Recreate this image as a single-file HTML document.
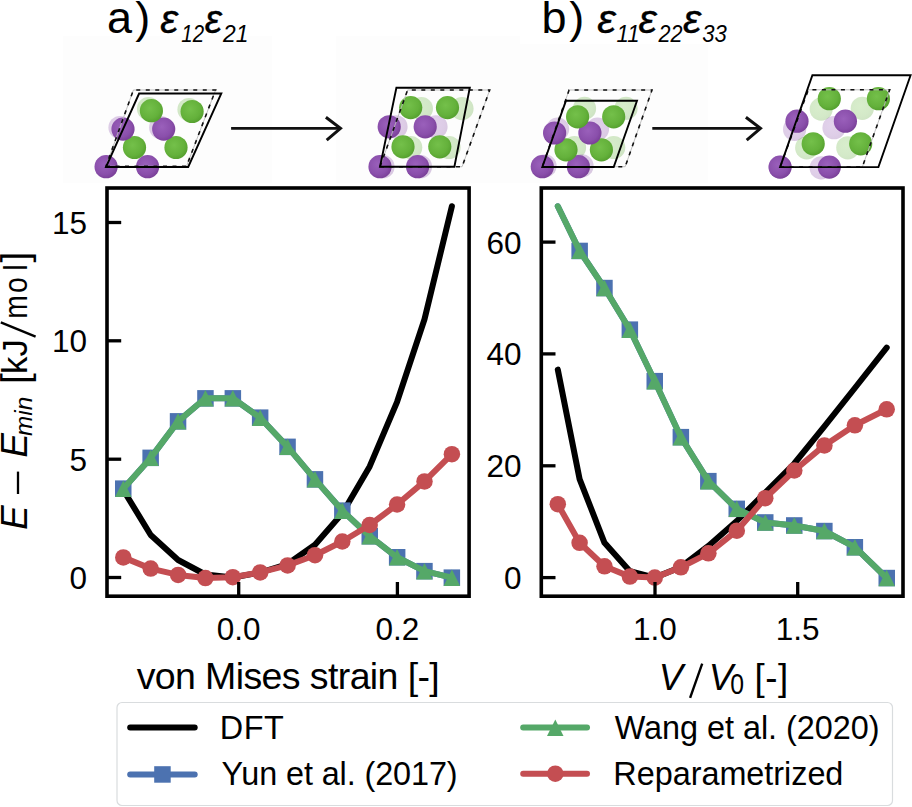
<!DOCTYPE html>
<html><head><meta charset="utf-8"><style>
html,body{margin:0;padding:0;background:#fff;}
svg{display:block;}
text{font-family:"Liberation Sans", sans-serif;}
</style></head><body>
<svg width="912" height="807" viewBox="0 0 912 807">
<defs>
<radialGradient id="gP" cx="0.42" cy="0.4" r="0.62"><stop offset="0" stop-color="#9a60bb"/><stop offset="0.7" stop-color="#8a4fab"/><stop offset="1" stop-color="#7a4098"/></radialGradient>
<radialGradient id="gG" cx="0.42" cy="0.4" r="0.62"><stop offset="0" stop-color="#74c04a"/><stop offset="0.7" stop-color="#64b13b"/><stop offset="1" stop-color="#55a02f"/></radialGradient>
</defs>
<rect x="63" y="36" width="209" height="147" fill="#fdfdfd"/>
<rect x="336" y="36" width="184" height="147" fill="#fdfdfd"/>
<rect x="520" y="44" width="188" height="139" fill="#fdfdfd"/>
<text x="106.89" y="33.3" font-family='"Liberation Sans", sans-serif' font-size="45">a</text>
<text x="135.24" y="33.3" font-family='"Liberation Sans", sans-serif' font-size="45">)</text>
<text x="541.40" y="33.3" font-family='"Liberation Sans", sans-serif' font-size="45">b</text>
<text x="569.24" y="33.3" font-family='"Liberation Sans", sans-serif' font-size="45">)</text>
<text x="160.32" y="33.0" font-family='"Liberation Sans", sans-serif' font-size="40.5" font-style="italic" textLength="17.90" lengthAdjust="spacingAndGlyphs" stroke="#000" stroke-width="0.35">ε</text>
<text x="181.27" y="41.7" font-family='"Liberation Sans", sans-serif' font-size="24.5" font-style="italic" textLength="22.73" lengthAdjust="spacingAndGlyphs">12</text>
<text x="204.75" y="33.0" font-family='"Liberation Sans", sans-serif' font-size="40.5" font-style="italic" textLength="17.19" lengthAdjust="spacingAndGlyphs" stroke="#000" stroke-width="0.35">ε</text>
<text x="223.03" y="41.7" font-family='"Liberation Sans", sans-serif' font-size="24.5" font-style="italic" textLength="25.39" lengthAdjust="spacingAndGlyphs">21</text>
<text x="597.20" y="33.0" font-family='"Liberation Sans", sans-serif' font-size="40.5" font-style="italic" textLength="18.61" lengthAdjust="spacingAndGlyphs" stroke="#000" stroke-width="0.35">ε</text>
<text x="616.57" y="41.7" font-family='"Liberation Sans", sans-serif' font-size="24.5" font-style="italic" textLength="22.87" lengthAdjust="spacingAndGlyphs">11</text>
<text x="638.61" y="33.0" font-family='"Liberation Sans", sans-serif' font-size="40.5" font-style="italic" textLength="18.30" lengthAdjust="spacingAndGlyphs" stroke="#000" stroke-width="0.35">ε</text>
<text x="658.43" y="41.7" font-family='"Liberation Sans", sans-serif' font-size="24.5" font-style="italic" textLength="23.99" lengthAdjust="spacingAndGlyphs">22</text>
<text x="683.11" y="33.0" font-family='"Liberation Sans", sans-serif' font-size="40.5" font-style="italic" textLength="18.20" lengthAdjust="spacingAndGlyphs" stroke="#000" stroke-width="0.35">ε</text>
<text x="702.18" y="41.7" font-family='"Liberation Sans", sans-serif' font-size="24.5" font-style="italic" textLength="24.51" lengthAdjust="spacingAndGlyphs">33</text>
<circle cx="148.5" cy="108.7" r="11.6" fill="url(#gG)" opacity="0.28"/><circle cx="189.0" cy="109.5" r="11.6" fill="url(#gG)" opacity="0.28"/><circle cx="120.0" cy="127.5" r="11.6" fill="url(#gP)" opacity="0.28"/><circle cx="160.7" cy="127.5" r="11.6" fill="url(#gP)" opacity="0.28"/><circle cx="106.1" cy="166.7" r="11.6" fill="url(#gP)"/><circle cx="147.6" cy="166.7" r="11.6" fill="url(#gP)"/><circle cx="134.5" cy="147.5" r="11.6" fill="url(#gG)"/><circle cx="176.0" cy="147.5" r="11.6" fill="url(#gG)"/><circle cx="123.0" cy="129.1" r="11.6" fill="url(#gP)"/><circle cx="163.7" cy="129.1" r="11.6" fill="url(#gP)"/><circle cx="151.4" cy="110.7" r="11.6" fill="url(#gG)"/><circle cx="192.1" cy="111.5" r="11.6" fill="url(#gG)"/><polygon points="106,166.3 186.5,166.3 215.6,90 133.4,90" fill="none" stroke="#b8b8b8" stroke-width="0.9"/><polygon points="106,166.3 186.5,166.3 215.6,90 133.4,90" fill="none" stroke="#111" stroke-width="1.6" stroke-dasharray="4,5.5"/><polygon points="106,167 188.2,167 221.3,93.5 139.1,93.5" fill="none" stroke="#000" stroke-width="1.9" stroke-linejoin="miter"/>
<circle cx="421.4" cy="108.6" r="11.6" fill="url(#gG)" opacity="0.28"/><circle cx="462.0" cy="108.6" r="11.6" fill="url(#gG)" opacity="0.28"/><circle cx="396.0" cy="126.8" r="11.6" fill="url(#gP)" opacity="0.28"/><circle cx="436.0" cy="126.8" r="11.6" fill="url(#gP)" opacity="0.28"/><circle cx="410.7" cy="147.5" r="11.6" fill="url(#gG)" opacity="0.28"/><circle cx="449.0" cy="147.5" r="11.6" fill="url(#gG)" opacity="0.28"/><circle cx="383.0" cy="166.7" r="11.6" fill="url(#gP)" opacity="0.28"/><circle cx="420.5" cy="166.7" r="11.6" fill="url(#gP)" opacity="0.28"/><circle cx="380.0" cy="166.7" r="11.6" fill="url(#gP)"/><circle cx="417.6" cy="166.7" r="11.6" fill="url(#gP)"/><circle cx="403.0" cy="146.8" r="11.6" fill="url(#gG)"/><circle cx="439.8" cy="146.8" r="11.6" fill="url(#gG)"/><circle cx="389.2" cy="126.8" r="11.6" fill="url(#gP)"/><circle cx="425.2" cy="126.8" r="11.6" fill="url(#gP)"/><circle cx="410.7" cy="107.6" r="11.6" fill="url(#gG)"/><circle cx="447.5" cy="107.6" r="11.6" fill="url(#gG)"/><polygon points="380,166.7 462.1,166.7 489.7,90 407.6,90" fill="none" stroke="#b8b8b8" stroke-width="0.9"/><polygon points="380,166.7 462.1,166.7 489.7,90 407.6,90" fill="none" stroke="#111" stroke-width="1.6" stroke-dasharray="4,5.5"/><polygon points="380,166.7 454.4,166.7 469.8,87.7 396.4,87.7" fill="none" stroke="#000" stroke-width="1.9" stroke-linejoin="miter"/>
<circle cx="584.5" cy="108.4" r="11.6" fill="url(#gG)" opacity="0.28"/><circle cx="626.0" cy="108.4" r="11.6" fill="url(#gG)" opacity="0.28"/><circle cx="557.6" cy="129.1" r="11.6" fill="url(#gP)" opacity="0.28"/><circle cx="597.5" cy="129.1" r="11.6" fill="url(#gP)" opacity="0.28"/><circle cx="574.5" cy="147.5" r="11.6" fill="url(#gG)" opacity="0.28"/><circle cx="613.7" cy="147.5" r="11.6" fill="url(#gG)" opacity="0.28"/><circle cx="545.0" cy="165.9" r="11.6" fill="url(#gP)" opacity="0.28"/><circle cx="582.0" cy="165.9" r="11.6" fill="url(#gP)" opacity="0.28"/><circle cx="542.3" cy="166.7" r="11.6" fill="url(#gP)"/><circle cx="578.4" cy="166.7" r="11.6" fill="url(#gP)"/><circle cx="566.0" cy="149.8" r="11.6" fill="url(#gG)"/><circle cx="601.4" cy="149.8" r="11.6" fill="url(#gG)"/><circle cx="554.6" cy="133.0" r="11.6" fill="url(#gP)"/><circle cx="589.9" cy="133.0" r="11.6" fill="url(#gP)"/><circle cx="577.6" cy="116.8" r="11.6" fill="url(#gG)"/><circle cx="613.7" cy="116.8" r="11.6" fill="url(#gG)"/><polygon points="542.3,166.7 625.2,166.7 652,90 569.1,90" fill="none" stroke="#b8b8b8" stroke-width="0.9"/><polygon points="542.3,166.7 625.2,166.7 652,90 569.1,90" fill="none" stroke="#111" stroke-width="1.6" stroke-dasharray="4,5.5"/><polygon points="542.3,167 613.7,167 637,100.7 566,100.7" fill="none" stroke="#000" stroke-width="1.9" stroke-linejoin="miter"/>
<circle cx="821.2" cy="109.1" r="11.6" fill="url(#gG)" opacity="0.28"/><circle cx="862.3" cy="108.3" r="11.6" fill="url(#gG)" opacity="0.28"/><circle cx="794.6" cy="129.3" r="11.6" fill="url(#gP)" opacity="0.28"/><circle cx="834.0" cy="127.7" r="11.6" fill="url(#gP)" opacity="0.28"/><circle cx="806.7" cy="147.8" r="11.6" fill="url(#gG)" opacity="0.28"/><circle cx="847.8" cy="147.8" r="11.6" fill="url(#gG)" opacity="0.28"/><circle cx="780.1" cy="167.1" r="11.6" fill="url(#gP)" opacity="0.28"/><circle cx="821.2" cy="167.9" r="11.6" fill="url(#gP)" opacity="0.28"/><circle cx="780.1" cy="167.1" r="11.6" fill="url(#gP)"/><circle cx="829.3" cy="167.1" r="11.6" fill="url(#gP)"/><circle cx="813.2" cy="143.8" r="11.6" fill="url(#gG)"/><circle cx="860.7" cy="143.8" r="11.6" fill="url(#gG)"/><circle cx="797.0" cy="121.2" r="11.6" fill="url(#gP)"/><circle cx="845.4" cy="121.2" r="11.6" fill="url(#gP)"/><circle cx="829.3" cy="98.7" r="11.6" fill="url(#gG)"/><circle cx="878.4" cy="98.7" r="11.6" fill="url(#gG)"/><polygon points="780.1,167.1 862.3,167.1 889.7,89.8 808.3,89.8" fill="none" stroke="#b8b8b8" stroke-width="0.9"/><polygon points="780.1,167.1 862.3,167.1 889.7,89.8 808.3,89.8" fill="none" stroke="#111" stroke-width="1.6" stroke-dasharray="4,5.5"/><polygon points="780.1,167.1 878.4,167.1 910.6,75.3 812.4,75.3" fill="none" stroke="#000" stroke-width="1.9" stroke-linejoin="miter"/>
<line x1="231.1" y1="128.4" x2="339.0" y2="128.4" stroke="#111" stroke-width="2.8"/><polyline points="325.9,117.2 340.5,128.4 326.7,140.20000000000002" fill="none" stroke="#111" stroke-width="3" stroke-linejoin="miter"/>
<line x1="652.3" y1="128.4" x2="759.0" y2="128.4" stroke="#111" stroke-width="2.8"/><polyline points="745.9,117.2 760.5,128.4 746.7,140.20000000000002" fill="none" stroke="#111" stroke-width="3" stroke-linejoin="miter"/>
<rect x="107" y="188" width="362" height="408" fill="#fff"/>
<rect x="541.3" y="188" width="361.7" height="408" fill="#fff"/>
<polyline points="123.3,490.0 150.7,535.0 178.1,560.0 205.4,574.5 232.8,577.5 260.2,572.5 287.6,564.0 315.0,544.7 342.3,513.4 369.7,466.4 397.1,401.8 424.5,319.2 451.9,206.2" fill="none" stroke="#000" stroke-width="6.0" stroke-linejoin="round" stroke-linecap="round"/><polyline points="123.3,488.7 150.7,457.9 178.1,421.4 205.4,398.3 232.8,398.3 260.2,417.7 287.6,446.9 315.0,479.4 342.3,510.6 369.7,536.2 397.1,557.3 424.5,571.1 451.9,577.6" fill="none" stroke="#4c72b0" stroke-width="6.0" stroke-linejoin="round" stroke-linecap="round"/><rect x="115.0" y="480.4" width="16.5" height="16.5" fill="#4c72b0"/><rect x="142.4" y="449.6" width="16.5" height="16.5" fill="#4c72b0"/><rect x="169.8" y="413.1" width="16.5" height="16.5" fill="#4c72b0"/><rect x="197.2" y="390.1" width="16.5" height="16.5" fill="#4c72b0"/><rect x="224.6" y="390.1" width="16.5" height="16.5" fill="#4c72b0"/><rect x="251.9" y="409.4" width="16.5" height="16.5" fill="#4c72b0"/><rect x="279.3" y="438.6" width="16.5" height="16.5" fill="#4c72b0"/><rect x="306.7" y="471.1" width="16.5" height="16.5" fill="#4c72b0"/><rect x="334.1" y="502.4" width="16.5" height="16.5" fill="#4c72b0"/><rect x="361.5" y="528.0" width="16.5" height="16.5" fill="#4c72b0"/><rect x="388.9" y="549.0" width="16.5" height="16.5" fill="#4c72b0"/><rect x="416.2" y="562.9" width="16.5" height="16.5" fill="#4c72b0"/><rect x="443.6" y="569.4" width="16.5" height="16.5" fill="#4c72b0"/><polyline points="123.3,488.7 150.7,457.9 178.1,421.4 205.4,398.3 232.8,398.3 260.2,417.7 287.6,446.9 315.0,479.4 342.3,510.6 369.7,536.2 397.1,557.3 424.5,571.1 451.9,577.6" fill="none" stroke="#55a868" stroke-width="6.0" stroke-linejoin="round" stroke-linecap="round"/><polygon points="123.3,480.4 115.0,496.9 131.6,496.9" fill="#55a868"/><polygon points="150.7,449.6 142.4,466.1 158.9,466.1" fill="#55a868"/><polygon points="178.1,413.1 169.8,429.6 186.3,429.6" fill="#55a868"/><polygon points="205.4,390.1 197.2,406.6 213.7,406.6" fill="#55a868"/><polygon points="232.8,390.1 224.6,406.6 241.1,406.6" fill="#55a868"/><polygon points="260.2,409.4 251.9,425.9 268.4,425.9" fill="#55a868"/><polygon points="287.6,438.6 279.3,455.1 295.8,455.1" fill="#55a868"/><polygon points="315.0,471.1 306.7,487.6 323.2,487.6" fill="#55a868"/><polygon points="342.3,502.4 334.1,518.9 350.6,518.9" fill="#55a868"/><polygon points="369.7,528.0 361.5,544.5 378.0,544.5" fill="#55a868"/><polygon points="397.1,549.0 388.9,565.5 405.4,565.5" fill="#55a868"/><polygon points="424.5,562.9 416.2,579.4 432.7,579.4" fill="#55a868"/><polygon points="451.9,569.4 443.6,585.9 460.1,585.9" fill="#55a868"/><polyline points="123.3,557.4 150.7,568.6 178.1,574.9 205.4,578.1 232.8,577.2 260.2,572.4 287.6,565.4 315.0,555.2 342.3,541.5 369.7,525.0 397.1,504.5 424.5,481.4 451.9,454.2" fill="none" stroke="#c44e52" stroke-width="6.0" stroke-linejoin="round" stroke-linecap="round"/><circle cx="123.3" cy="557.4" r="8.25" fill="#c44e52"/><circle cx="150.7" cy="568.6" r="8.25" fill="#c44e52"/><circle cx="178.1" cy="574.9" r="8.25" fill="#c44e52"/><circle cx="205.4" cy="578.1" r="8.25" fill="#c44e52"/><circle cx="232.8" cy="577.2" r="8.25" fill="#c44e52"/><circle cx="260.2" cy="572.4" r="8.25" fill="#c44e52"/><circle cx="287.6" cy="565.4" r="8.25" fill="#c44e52"/><circle cx="315.0" cy="555.2" r="8.25" fill="#c44e52"/><circle cx="342.3" cy="541.5" r="8.25" fill="#c44e52"/><circle cx="369.7" cy="525.0" r="8.25" fill="#c44e52"/><circle cx="397.1" cy="504.5" r="8.25" fill="#c44e52"/><circle cx="424.5" cy="481.4" r="8.25" fill="#c44e52"/><circle cx="451.9" cy="454.2" r="8.25" fill="#c44e52"/>
<polyline points="557.8,369.6 579.6,479.1 604.5,542.8 629.9,571.2 654.8,577.6 680.9,567.0 708.4,546.0 736.8,521.0 765.3,492.5 794.3,463.5 824.4,426.3 854.9,388.0 886.7,347.7" fill="none" stroke="#000" stroke-width="6.0" stroke-linejoin="round" stroke-linecap="round"/><polyline points="557.8,206.3 579.6,250.9 604.5,288.0 629.9,329.7 654.8,381.2 680.9,437.2 708.4,481.1 736.8,508.9 765.3,522.5 794.3,525.5 824.4,531.0 854.9,547.2 886.7,578.0" fill="none" stroke="#4c72b0" stroke-width="6.0" stroke-linejoin="round" stroke-linecap="round"/><rect x="571.4" y="242.7" width="16.5" height="16.5" fill="#4c72b0"/><rect x="596.2" y="279.8" width="16.5" height="16.5" fill="#4c72b0"/><rect x="621.6" y="321.4" width="16.5" height="16.5" fill="#4c72b0"/><rect x="646.5" y="372.9" width="16.5" height="16.5" fill="#4c72b0"/><rect x="672.6" y="428.9" width="16.5" height="16.5" fill="#4c72b0"/><rect x="700.1" y="472.9" width="16.5" height="16.5" fill="#4c72b0"/><rect x="728.5" y="500.6" width="16.5" height="16.5" fill="#4c72b0"/><rect x="757.0" y="514.2" width="16.5" height="16.5" fill="#4c72b0"/><rect x="786.0" y="517.2" width="16.5" height="16.5" fill="#4c72b0"/><rect x="816.1" y="522.8" width="16.5" height="16.5" fill="#4c72b0"/><rect x="846.6" y="539.0" width="16.5" height="16.5" fill="#4c72b0"/><rect x="878.5" y="569.8" width="16.5" height="16.5" fill="#4c72b0"/><polyline points="557.8,206.3 579.6,250.9 604.5,288.0 629.9,329.7 654.8,381.2 680.9,437.2 708.4,481.1 736.8,508.9 765.3,522.5 794.3,525.5 824.4,531.0 854.9,547.2 886.7,578.0" fill="none" stroke="#55a868" stroke-width="6.0" stroke-linejoin="round" stroke-linecap="round"/><polygon points="579.6,242.7 571.4,259.1 587.9,259.1" fill="#55a868"/><polygon points="604.5,279.8 596.2,296.2 612.8,296.2" fill="#55a868"/><polygon points="629.9,321.4 621.6,337.9 638.1,337.9" fill="#55a868"/><polygon points="654.8,372.9 646.5,389.4 663.0,389.4" fill="#55a868"/><polygon points="680.9,428.9 672.6,445.4 689.1,445.4" fill="#55a868"/><polygon points="708.4,472.9 700.1,489.4 716.6,489.4" fill="#55a868"/><polygon points="736.8,500.6 728.5,517.1 745.0,517.1" fill="#55a868"/><polygon points="765.3,514.2 757.0,530.8 773.5,530.8" fill="#55a868"/><polygon points="794.3,517.2 786.0,533.8 802.5,533.8" fill="#55a868"/><polygon points="824.4,522.8 816.1,539.2 832.6,539.2" fill="#55a868"/><polygon points="854.9,539.0 846.6,555.5 863.1,555.5" fill="#55a868"/><polygon points="886.7,569.8 878.5,586.2 895.0,586.2" fill="#55a868"/><polyline points="557.8,504.2 579.6,542.8 604.5,566.3 629.9,576.6 654.8,577.6 680.9,567.3 708.4,553.3 736.8,530.7 765.3,498.2 794.3,470.5 824.4,445.4 854.9,425.3 886.7,409.3" fill="none" stroke="#c44e52" stroke-width="6.0" stroke-linejoin="round" stroke-linecap="round"/><circle cx="557.8" cy="504.2" r="8.25" fill="#c44e52"/><circle cx="579.6" cy="542.8" r="8.25" fill="#c44e52"/><circle cx="604.5" cy="566.3" r="8.25" fill="#c44e52"/><circle cx="629.9" cy="576.6" r="8.25" fill="#c44e52"/><circle cx="654.8" cy="577.6" r="8.25" fill="#c44e52"/><circle cx="680.9" cy="567.3" r="8.25" fill="#c44e52"/><circle cx="708.4" cy="553.3" r="8.25" fill="#c44e52"/><circle cx="736.8" cy="530.7" r="8.25" fill="#c44e52"/><circle cx="765.3" cy="498.2" r="8.25" fill="#c44e52"/><circle cx="794.3" cy="470.5" r="8.25" fill="#c44e52"/><circle cx="824.4" cy="445.4" r="8.25" fill="#c44e52"/><circle cx="854.9" cy="425.3" r="8.25" fill="#c44e52"/><circle cx="886.7" cy="409.3" r="8.25" fill="#c44e52"/>
<rect x="107" y="188" width="362.1" height="408.20000000000005" fill="none" stroke="#000" stroke-width="3.6"/><line x1="107" y1="577.5" x2="121.2" y2="577.5" stroke="#000" stroke-width="3.3"/><line x1="107" y1="459.2" x2="121.2" y2="459.2" stroke="#000" stroke-width="3.3"/><line x1="107" y1="340.8" x2="121.2" y2="340.8" stroke="#000" stroke-width="3.3"/><line x1="107" y1="222.5" x2="121.2" y2="222.5" stroke="#000" stroke-width="3.3"/><line x1="238.7" y1="596.2" x2="238.7" y2="582.0" stroke="#000" stroke-width="3.3"/><line x1="397.4" y1="596.2" x2="397.4" y2="582.0" stroke="#000" stroke-width="3.3"/>
<rect x="541.3" y="188" width="361.70000000000005" height="408.20000000000005" fill="none" stroke="#000" stroke-width="3.6"/><line x1="541.3" y1="577.6" x2="555.5" y2="577.6" stroke="#000" stroke-width="3.3"/><line x1="541.3" y1="465.8" x2="555.5" y2="465.8" stroke="#000" stroke-width="3.3"/><line x1="541.3" y1="353.9" x2="555.5" y2="353.9" stroke="#000" stroke-width="3.3"/><line x1="541.3" y1="242.1" x2="555.5" y2="242.1" stroke="#000" stroke-width="3.3"/><line x1="655.0" y1="596.2" x2="655.0" y2="582.0" stroke="#000" stroke-width="3.3"/><line x1="797.7" y1="596.2" x2="797.7" y2="582.0" stroke="#000" stroke-width="3.3"/>
<text x="87" y="589.0" font-family='"Liberation Sans", sans-serif' font-size="31.5" text-anchor="end">0</text>
<text x="87" y="470.7" font-family='"Liberation Sans", sans-serif' font-size="31.5" text-anchor="end">5</text>
<text x="87" y="352.3" font-family='"Liberation Sans", sans-serif' font-size="31.5" text-anchor="end">10</text>
<text x="87" y="234.0" font-family='"Liberation Sans", sans-serif' font-size="31.5" text-anchor="end">15</text>
<text x="521.5" y="589.1" font-family='"Liberation Sans", sans-serif' font-size="31.5" text-anchor="end">0</text>
<text x="521.5" y="477.3" font-family='"Liberation Sans", sans-serif' font-size="31.5" text-anchor="end">20</text>
<text x="521.5" y="365.4" font-family='"Liberation Sans", sans-serif' font-size="31.5" text-anchor="end">40</text>
<text x="521.5" y="253.6" font-family='"Liberation Sans", sans-serif' font-size="31.5" text-anchor="end">60</text>
<text x="238.7" y="639.8" font-family='"Liberation Sans", sans-serif' font-size="31.5" text-anchor="middle">0.0</text>
<text x="397.4" y="639.8" font-family='"Liberation Sans", sans-serif' font-size="31.5" text-anchor="middle">0.2</text>
<text x="655.0" y="639.8" font-family='"Liberation Sans", sans-serif' font-size="31.5" text-anchor="middle">1.0</text>
<text x="797.7" y="639.8" font-family='"Liberation Sans", sans-serif' font-size="31.5" text-anchor="middle">1.5</text>
<text x="136.67" y="688.6" font-family='"Liberation Sans", sans-serif' font-size="37.5" textLength="303.10" lengthAdjust="spacing">von Mises strain [-]</text>
<text x="658.75" y="690" font-family='"Liberation Sans", sans-serif' font-size="36.5" font-style="italic">V</text>
<line x1="702.2" y1="663.6" x2="690.1" y2="697.8" stroke="#000" stroke-width="2.4"/>
<text x="708.75" y="690" font-family='"Liberation Sans", sans-serif' font-size="36.5" font-style="italic">V</text>
<text transform="translate(731.2,693.6) scale(0.84,1)" font-family='"Liberation Sans", sans-serif' font-size="29.5" x="-1.15" y="0">0</text>
<text x="754.58" y="689.8" font-family='"Liberation Sans", sans-serif' font-size="36.7" textLength="33.63" lengthAdjust="spacing">[-]</text>
<g transform="rotate(-90)"><text x="-529.82" y="27.3" font-family='"Liberation Sans", sans-serif' font-size="36.5" font-style="italic">E</text><text x="-457.42" y="27.3" font-family='"Liberation Sans", sans-serif' font-size="36.5" font-style="italic">E</text><text x="-435.90" y="31.7" font-family='"Liberation Sans", sans-serif' font-size="24.3" font-style="italic">m</text><text x="-415.65" y="31.7" font-family='"Liberation Sans", sans-serif' font-size="24.3" font-style="italic">i</text><text x="-410.27" y="31.7" font-family='"Liberation Sans", sans-serif' font-size="24.3" font-style="italic">n</text><text x="-383.98" y="28.3" font-family='"Liberation Sans", sans-serif' font-size="39">[</text><text x="-373.94" y="27.3" font-family='"Liberation Sans", sans-serif' font-size="34.8">k</text><text x="-356.54" y="27.3" font-family='"Liberation Sans", sans-serif' font-size="34.8">J</text><text transform="translate(-316.9,27.3) scale(0.86,1)" x="-2.18" y="0" font-family='"Liberation Sans", sans-serif' font-size="33">m</text><text transform="translate(-291.7,27.3) scale(0.86,1)" x="-1.39" y="0" font-family='"Liberation Sans", sans-serif' font-size="33">o</text><text transform="translate(-268.8,27.3) scale(0.86,1)" x="-2.21" y="0" font-family='"Liberation Sans", sans-serif' font-size="33">l</text><text x="-262.50" y="28.3" font-family='"Liberation Sans", sans-serif' font-size="39">]</text></g>
<line x1="18" y1="494" x2="18" y2="471.6" stroke="#000" stroke-width="2.3"/>
<line x1="0.8" y1="322.4" x2="35.6" y2="336.6" stroke="#000" stroke-width="2.4"/>
<rect x="117" y="702.5" width="775.5" height="103" rx="5" ry="5" fill="#fff" stroke="#d9dcde" stroke-width="1.2"/>
<line x1="130.2" y1="727.5" x2="194.7" y2="727.5" stroke="#000" stroke-width="6.0" stroke-linecap="round"/>
<text x="219.64" y="739.3" font-family='"Liberation Sans", sans-serif' font-size="32.4" textLength="64.20" lengthAdjust="spacing">DFT</text>
<line x1="130.2" y1="774.5" x2="194.7" y2="774.5" stroke="#4c72b0" stroke-width="6.0" stroke-linecap="round"/>
<rect x="154.2" y="766.2" width="16.5" height="16.5" fill="#4c72b0"/>
<text x="221.59" y="785.4" font-family='"Liberation Sans", sans-serif' font-size="32.4" textLength="236.02" lengthAdjust="spacing">Yun et al. (2017)</text>
<line x1="523.2" y1="727.5" x2="587" y2="727.5" stroke="#55a868" stroke-width="6.0" stroke-linecap="round"/>
<polygon points="555.3,719.6 547.0,736.1 563.5,736.1" fill="#55a868"/>
<text x="614.76" y="739.3" font-family='"Liberation Sans", sans-serif' font-size="32.4" textLength="264.75" lengthAdjust="spacing">Wang et al. (2020)</text>
<line x1="523.2" y1="773.7" x2="587" y2="773.7" stroke="#c44e52" stroke-width="6.0" stroke-linecap="round"/>
<circle cx="555.3" cy="773.7" r="8.25" fill="#c44e52"/>
<text x="613.34" y="785.4" font-family='"Liberation Sans", sans-serif' font-size="32.4" textLength="230.05" lengthAdjust="spacing">Reparametrized</text>
</svg>
</body></html>
